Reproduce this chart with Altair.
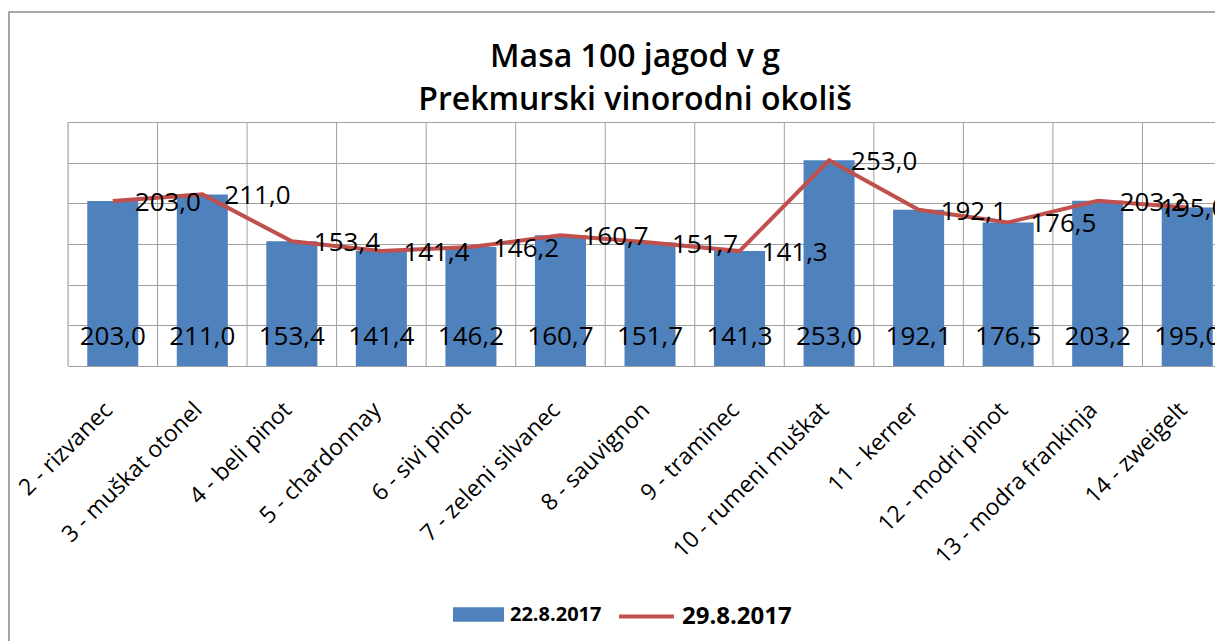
import altair as alt
import pandas as pd

categories = ["2 - rizvanec", "3 - muškat otonel", "4 - beli pinot", "5 - chardonnay",
              "6 - sivi pinot", "7 - zeleni silvanec", "8 - sauvignon", "9 - traminec",
              "10 - rumeni muškat", "11 - kerner", "12 - modri pinot",
              "13 - modra frankinja", "14 - zweigelt"]
mass_22_8 = [203.0, 211.0, 153.4, 141.4, 146.2, 160.7, 151.7, 141.3, 253.0, 192.1, 176.5, 203.2, 195.0]
mass_29_8 = [203.0, 211.0, 153.4, 141.4, 146.2, 160.7, 151.7, 141.3, 253.0, 192.1, 176.5, 203.2, 195.0]
series_names = ["22.8.2017", "29.8.2017"]
title_lines = ["Masa 100 jagod v g", "Prekmurski vinorodni okoliš"]
y_ticks = [0, 50, 100, 150, 200, 250, 300]

df = pd.DataFrame({"cat": categories, "v1": mass_22_8, "v2": mass_29_8})

FONT = "Open Sans"
BLUE = "#4F81BD"
RED = "#C0504D"
GRID = "#a0a0a0"
RANGE_W = 1164
STEP = RANGE_W / len(categories)

x_enc = alt.X("cat:N", sort=categories, title=None,
              scale=alt.Scale(range=[0, RANGE_W], paddingInner=0.43, paddingOuter=0.215),
              axis=alt.Axis(labelAngle=-45, labelFont=FONT, labelFontSize=23, labelColor="black",
                            labelLimit=500, labelPadding=40, labelOffset=-4, ticks=False,
                            domain=False, grid=False))
y_scale = alt.Scale(domain=[0, 300], nice=False)
y_axis = alt.Axis(values=y_ticks, labels=False, ticks=False, domain=False, grid=True,
                  gridColor=GRID, gridWidth=1, title=None)

base = alt.Chart(df)

frame = alt.Chart(pd.DataFrame({"a": [0]})).mark_rect(
    fillOpacity=0, stroke="#8a8a8a", strokeWidth=1.5
).encode(x=alt.value(-59), x2=alt.value(1400), y=alt.value(-110), y2=alt.value(700))

title = alt.Chart(pd.DataFrame({"a": [0]})).mark_text(
    text="\n".join(title_lines), lineBreak="\n", lineHeight=43, font=FONT, fontSize=32,
    fontWeight=600, color="black", align="center", baseline="alphabetic"
).encode(x=alt.value(567), y=alt.value(-55))

vgrid = base.mark_rule(color=GRID, strokeWidth=1, xOffset=-STEP / 2).encode(
    x=alt.X("cat:N", sort=categories),
    y=alt.datum(0), y2=alt.datum(300),
)

bars = base.transform_calculate(s1=f"'{series_names[0]}'").mark_bar().encode(
    x=x_enc,
    y=alt.Y("v1:Q", scale=y_scale, axis=y_axis),
    color=alt.Color("s1:N", scale=alt.Scale(domain=[series_names[0]], range=[BLUE]),
                    legend=alt.Legend(orient="none", legendX=385, legendY=467, title=None,
                                      symbolType="M-1,-0.28H1V0.28H-1Z", symbolSize=2601,
                                      symbolStrokeWidth=0, symbolOpacity=1,
                                      labelFont=FONT, labelFontSize=20, labelFontWeight="bold",
                                      labelColor="black", labelOffset=6, padding=0, labelLimit=300)),
)

bar_labels = base.transform_calculate(
    lbl="replace(format(datum.v1, '.1f'), '.', ',')"
).mark_text(font=FONT, fontSize=26, color="black", baseline="middle", dy=-29).encode(
    x=alt.X("cat:N", sort=categories),
    y=alt.datum(0),
    text="lbl:N",
)

line = base.transform_calculate(s2=f"'{series_names[1]}'").mark_line(strokeWidth=4).encode(
    x=alt.X("cat:N", sort=categories),
    y=alt.Y("v2:Q"),
    stroke=alt.Stroke("s2:N", scale=alt.Scale(domain=[series_names[1]], range=[RED]),
                      legend=alt.Legend(orient="none", legendX=549, legendY=465, title=None,
                                        symbolType="stroke", symbolSize=3025, symbolStrokeWidth=4,
                                        labelFont=FONT, labelFontSize=24, labelFontWeight="bold",
                                        labelColor="black", labelOffset=6, padding=0, labelLimit=300)),
)

line_lbl_base = base.transform_calculate(
    lbl="replace(format(datum.v2, '.1f'), '.', ',')"
)
line_labels = line_lbl_base.transform_filter(
    f"datum.cat != '{categories[-1]}'"
).mark_text(font=FONT, fontSize=26, color="black", align="left", baseline="middle",
            dx=22, dy=2).encode(
    x=alt.X("cat:N", sort=categories), y=alt.Y("v2:Q"), text="lbl:N")
last_label = line_lbl_base.transform_filter(
    f"datum.cat == '{categories[-1]}'"
).mark_text(font=FONT, fontSize=26, color="black", align="center", baseline="middle",
            dx=6, dy=2).encode(
    x=alt.X("cat:N", sort=categories), y=alt.Y("v2:Q"), text="lbl:N")

chart = alt.layer(frame, title, vgrid, bars, bar_labels, line, line_labels, last_label).properties(
    width=1147, height=244,
    autosize=alt.AutoSizeParams(type="none"),
    padding={"left": 60, "top": 114, "right": 0, "bottom": 275},
).configure_view(stroke=None).configure(background="white")

chart.save("out.html", embed_options={"renderer": "svg", "actions": False})
